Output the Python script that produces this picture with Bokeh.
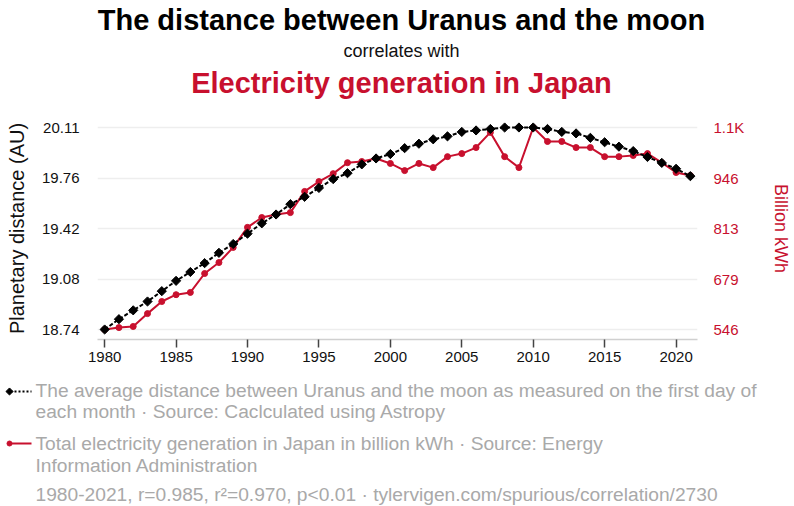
import numpy as np
from bokeh.plotting import figure
from bokeh.models import Range1d, LinearAxis, FixedTicker
from bokeh.layouts import column
from bokeh.core.properties import value
from bokeh.embed import file_html
from bokeh.resources import INLINE

# ---------------- data ----------------
years = list(range(1980, 2022))
distance_au = [18.74, 18.81, 18.87, 18.93, 19.00, 19.07, 19.13, 19.19, 19.26, 19.32,
               19.39, 19.46, 19.52, 19.59, 19.64, 19.70, 19.76, 19.80, 19.86, 19.90,
               19.93, 19.97, 20.00, 20.03, 20.05, 20.08, 20.09, 20.10, 20.11, 20.11,
               20.11, 20.10, 20.08, 20.07, 20.04, 20.01, 19.98, 19.95, 19.91, 19.87,
               19.83, 19.78]
electricity_bkwh = [546, 551, 554, 588, 620, 638, 644, 694, 723, 763,
                    816, 842, 850, 855, 911, 937, 958, 987, 990, 998,
                    985, 966, 985, 974, 1003, 1011, 1027, 1067, 1003, 974,
                    1080, 1043, 1043, 1027, 1027, 1003, 1003, 1006, 1011, 987,
                    961, 953]
x_ticks = [1980, 1985, 1990, 1995, 2000, 2005, 2010, 2015, 2020]
left_tick_labels = ["18.74", "19.08", "19.42", "19.76", "20.11"]
right_tick_labels = ["546", "679", "813", "946", "1.1K"]

title_1 = "The distance between Uranus and the moon"
title_2 = "correlates with"
title_3 = "Electricity generation in Japan"
left_axis_title = "Planetary distance (AU)"
right_axis_title = "Billion kWh"
legend_1 = ["The average distance between Uranus and the moon as measured on the first day of",
            "each month · Source: Caclculated using Astropy"]
legend_2 = ["Total electricity generation in Japan in billion kWh · Source: Energy",
            "Information Administration"]
footer = "1980-2021, r=0.985, r²=0.970, p<0.01 · tylervigen.com/spurious/correlation/2730"

# ---------------- style ----------------
RED = "#c8102e"
GRAY = "#a9a9a9"
FONT = "Liberation Sans"
W = 794
H_TOP, H_MAIN, H_BOT = 100, 275, 131


def blank(h):
    f = figure(width=W, height=h, output_backend="svg", toolbar_location=None,
               x_range=Range1d(0, W), y_range=Range1d(h, 0),
               x_axis_location=None, y_axis_location=None,
               min_border=0, min_border_left=0, min_border_right=0,
               min_border_top=0, min_border_bottom=0, frame_align=False)
    f.grid.visible = False
    f.outline_line_color = None
    return f


def txt(f, s, x, y, size, color, bold=False, align="left"):
    f.text(x=[x], y=[y], text=[s], text_font=value(FONT), text_font_size=value(f"{size}px"),
           text_color=color, text_font_style="bold" if bold else "normal",
           text_align=align, text_baseline="middle")


# ---------------- titles ----------------
ptop = blank(H_TOP)
txt(ptop, title_1, 401, 19, 29, "black", bold=True, align="center")
txt(ptop, title_2, 401, 50, 18, "#111111", align="center")
txt(ptop, title_3, 401, 82, 29, RED, bold=True, align="center")

# ---------------- main chart ----------------
PAD = 10.0 / 202.0
d_min, d_max = min(distance_au), max(distance_au)
d_span = d_max - d_min
e_min, e_max = min(electricity_bkwh), max(electricity_bkwh)
e_span = e_max - e_min

p = figure(width=W, height=H_MAIN, output_backend="svg", toolbar_location=None,
           x_range=Range1d(years[0] - 0.5, years[-1] + 0.5),
           y_range=Range1d(d_min - PAD * d_span, d_max + PAD * d_span),
           min_border_left=97, min_border_right=88,
           min_border_top=17, min_border_bottom=36, frame_align=False)
p.extra_y_ranges = {"kwh": Range1d(e_min - PAD * e_span, e_max + PAD * e_span)}
p.outline_line_color = None

left_ticks = [float(v) for v in np.linspace(d_min, d_max, 5)]
right_ticks = [float(v) for v in np.linspace(e_min, e_max, 5)]

xa = p.xaxis[0]
xa.ticker = FixedTicker(ticks=x_ticks)
xa.axis_line_color = "#d0d0d0"
xa.axis_line_width = 1.5
xa.major_tick_line_color = "#444444"
xa.major_tick_line_width = 1.5
xa.major_tick_in = 0
xa.major_tick_out = 8
xa.minor_tick_line_color = None
xa.major_label_text_font = FONT
xa.major_label_text_font_size = "15px"
xa.major_label_text_color = "#111111"
xa.major_label_standoff = 4

ya = p.yaxis[0]
ya.ticker = FixedTicker(ticks=left_ticks)
ya.major_label_overrides = {t: s for t, s in zip(left_ticks, left_tick_labels)}
ya.axis_line_color = None
ya.major_tick_line_color = None
ya.minor_tick_line_color = None
ya.major_label_text_font = FONT
ya.major_label_text_font_size = "15px"
ya.major_label_text_color = "#111111"
ya.major_label_standoff = 12
ya.axis_label = left_axis_title
ya.axis_label_text_font = FONT
ya.axis_label_text_font_size = "20px"
ya.axis_label_text_font_style = "normal"
ya.axis_label_text_color = "#111111"
ya.axis_label_standoff = 11

ra = LinearAxis(y_range_name="kwh", ticker=FixedTicker(ticks=right_ticks))
ra.major_label_overrides = {t: s for t, s in zip(right_ticks, right_tick_labels)}
ra.axis_line_color = None
ra.major_tick_line_color = None
ra.minor_tick_line_color = None
ra.major_label_text_font = FONT
ra.major_label_text_font_size = "15px"
ra.major_label_text_color = RED
ra.major_label_standoff = 10
ra.axis_label = right_axis_title
ra.axis_label_text_font = FONT
ra.axis_label_text_font_size = "18px"
ra.axis_label_text_font_style = "normal"
ra.axis_label_text_color = RED
ra.axis_label_standoff = 24
p.add_layout(ra, "right")

p.xgrid.grid_line_color = None
p.ygrid.ticker = FixedTicker(ticks=left_ticks)
p.ygrid.grid_line_color = "#eeeeee"
p.ygrid.grid_line_width = 1.5

p.line(years, electricity_bkwh, y_range_name="kwh", line_color=RED, line_width=2)
p.scatter(years, electricity_bkwh, y_range_name="kwh", marker="circle", size=6,
          fill_color=RED, line_color=RED)
p.line(years, distance_au, line_color="black", line_width=2, line_dash="4 2")
p.scatter(years, distance_au, marker="square", angle=np.pi / 4, size=6.5,
          fill_color="black", line_color="black")

# ---------------- legend / footer ----------------
pbot = blank(H_BOT)
Y0 = 375
LEG = 19.2
txt(pbot, legend_1[0], 35, 390 - Y0, LEG, GRAY)
txt(pbot, legend_1[1], 35, 411 - Y0, LEG, GRAY)
txt(pbot, legend_2[0], 35, 443 - Y0, LEG, GRAY)
txt(pbot, legend_2[1], 35, 465 - Y0, LEG, GRAY)
txt(pbot, footer, 35, 494 - Y0, LEG, GRAY)
pbot.line([10, 31], [391 - Y0, 391 - Y0], line_color="black", line_width=2, line_dash="2 2")
pbot.scatter([9], [391 - Y0], marker="square", angle=np.pi / 4, size=5,
             fill_color="black", line_color="black")
pbot.line([10, 31], [443 - Y0, 443 - Y0], line_color=RED, line_width=2)
pbot.scatter([9], [443 - Y0], marker="circle", size=5, fill_color=RED, line_color=RED)

layout = column(ptop, p, pbot, spacing=0)
open("out.html", "w").write(file_html(layout, INLINE))
